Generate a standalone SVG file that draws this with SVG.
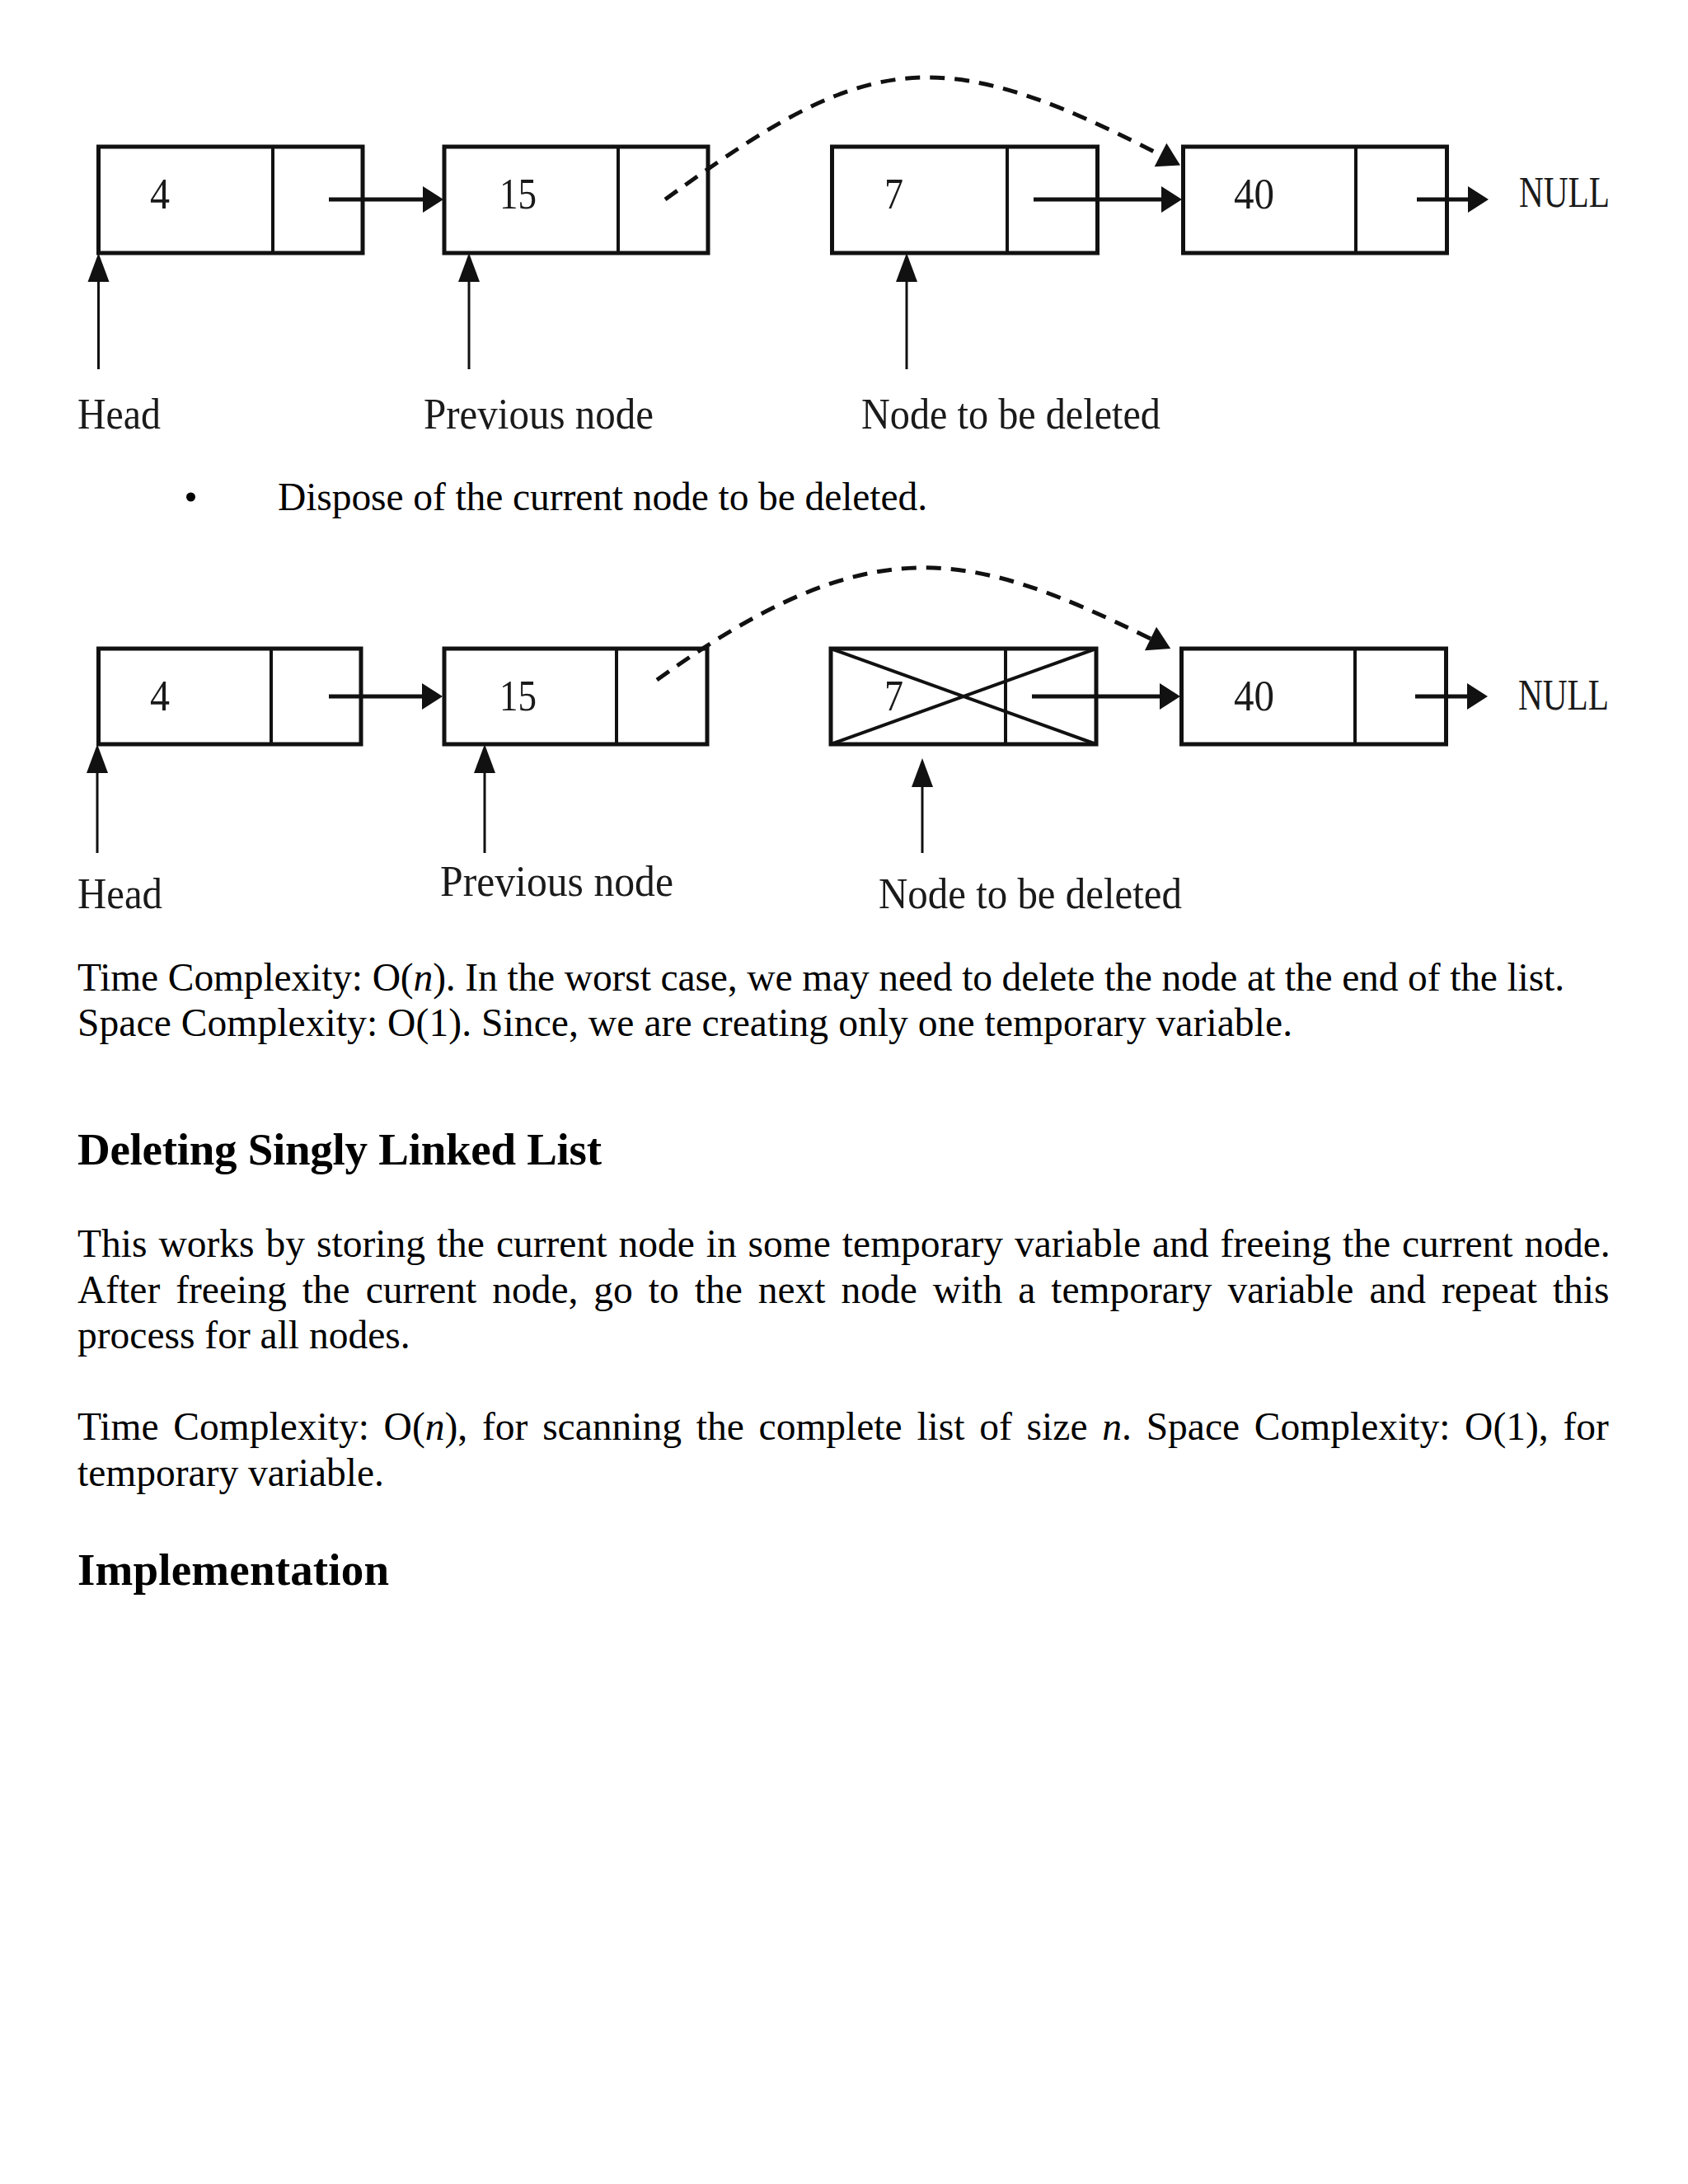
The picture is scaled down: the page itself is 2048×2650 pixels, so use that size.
<svg xmlns="http://www.w3.org/2000/svg" width="2048" height="2650" viewBox="0 0 2048 2650">
<style>
.box{fill:none;stroke:#111;stroke-width:5}
.div{stroke:#111;stroke-width:4}
.ptr{stroke:#111;stroke-width:5;fill:none}
.vptr{stroke:#111;stroke-width:3;fill:none}
.dash{stroke:#111;stroke-width:5;fill:none;stroke-dasharray:18 12}
.cross{stroke:#111;stroke-width:4}
.lbl{font-family:"Liberation Serif","Times New Roman",serif;font-size:53px;fill:#1a1a1a}
.body{font-family:"Liberation Serif","Times New Roman",serif;font-size:47.5px;fill:#000}
.head{font-family:"Liberation Serif","Times New Roman",serif;font-size:55px;font-weight:bold;fill:#000}
</style>
<defs>
<marker id="ah" markerUnits="userSpaceOnUse" markerWidth="25" markerHeight="32" viewBox="0 -16 25 32" refX="0" refY="0" orient="auto" overflow="visible"><path d="M0,-16 L25,0 L0,16 z" fill="#111"/></marker>
<marker id="av" markerUnits="userSpaceOnUse" markerWidth="35" markerHeight="26" viewBox="0 -13 35 26" refX="0" refY="0" orient="auto" overflow="visible"><path d="M0,-13 L35,0 L0,13 z" fill="#111"/></marker>
<marker id="ad" markerUnits="userSpaceOnUse" markerWidth="27" markerHeight="32" viewBox="0 -16 27 32" refX="0" refY="0" orient="auto" overflow="visible"><path d="M0,-16 L27,0 L0,16 z" fill="#111"/></marker>
</defs>
<rect width="2048" height="2650" fill="#fff"/>

<!-- Diagram 1 -->
<g id="d1-node-4"><rect class="box" x="119.5" y="178" width="320.5" height="129"/><line class="div" x1="331" y1="178" x2="331" y2="307"/><text class="lbl" x="182" y="253" textLength="24" lengthAdjust="spacingAndGlyphs">4</text></g>
<g id="d1-node-15"><rect class="box" x="539" y="178" width="320" height="129"/><line class="div" x1="750" y1="178" x2="750" y2="307"/><text class="lbl" x="606" y="253" textLength="45" lengthAdjust="spacingAndGlyphs">15</text></g>
<g id="d1-node-7"><rect class="box" x="1009.5" y="178" width="322" height="129"/><line class="div" x1="1222" y1="178" x2="1222" y2="307"/><text class="lbl" x="1073" y="253" textLength="23" lengthAdjust="spacingAndGlyphs">7</text></g>
<g id="d1-node-40"><rect class="box" x="1435.5" y="178" width="320" height="129"/><line class="div" x1="1645" y1="178" x2="1645" y2="307"/><text class="lbl" x="1497" y="253" textLength="49" lengthAdjust="spacingAndGlyphs">40</text></g>
<g id="d1-null"><text class="lbl" x="1843" y="251" textLength="110" lengthAdjust="spacingAndGlyphs">NULL</text></g>
<g id="d1-head"><text class="lbl" x="94" y="520" textLength="101" lengthAdjust="spacingAndGlyphs">Head</text></g>
<g id="d1-prev"><text class="lbl" x="514" y="520" textLength="279" lengthAdjust="spacingAndGlyphs">Previous node</text></g>
<g id="d1-del"><text class="lbl" x="1045" y="520" textLength="363" lengthAdjust="spacingAndGlyphs">Node to be deleted</text></g>
<g id="d1-connectors">
<line class="ptr" x1="399" y1="242" x2="513" y2="242" marker-end="url(#ah)"/>
<line class="ptr" x1="1254" y1="242" x2="1409" y2="242" marker-end="url(#ah)"/>
<line class="ptr" x1="1719" y1="242" x2="1781" y2="242" marker-end="url(#ah)"/>
<line class="vptr" x1="119.5" y1="448" x2="119.5" y2="342" marker-end="url(#av)"/>
<line class="vptr" x1="569" y1="448" x2="569" y2="342" marker-end="url(#av)"/>
<line class="vptr" x1="1100" y1="448" x2="1100" y2="342" marker-end="url(#av)"/>
<path class="dash" d="M807,242 C1047,68 1130,44 1408,188" marker-end="url(#ad)"/>
</g>

<!-- Bullet -->
<circle cx="231.5" cy="603" r="5.5" fill="#000"/>
<text class="body" x="337" y="619" textLength="788">Dispose of the current node to be deleted.</text>

<!-- Diagram 2 -->
<g id="d2-node-4"><rect class="box" x="119.5" y="787" width="318.5" height="116"/><line class="div" x1="329" y1="787" x2="329" y2="903"/><text class="lbl" x="182" y="862" textLength="24" lengthAdjust="spacingAndGlyphs">4</text></g>
<g id="d2-node-15"><rect class="box" x="539" y="787" width="319" height="116"/><line class="div" x1="748" y1="787" x2="748" y2="903"/><text class="lbl" x="606" y="862" textLength="45" lengthAdjust="spacingAndGlyphs">15</text></g>
<g id="d2-node-7"><rect class="box" x="1008" y="787" width="322" height="116"/><line class="div" x1="1220" y1="787" x2="1220" y2="903"/><text class="lbl" x="1073" y="862" textLength="23" lengthAdjust="spacingAndGlyphs">7</text><line class="cross" x1="1008" y1="787" x2="1330" y2="903"/><line class="cross" x1="1008" y1="903" x2="1330" y2="787"/></g>
<g id="d2-node-40"><rect class="box" x="1433.5" y="787" width="321" height="116"/><line class="div" x1="1644" y1="787" x2="1644" y2="903"/><text class="lbl" x="1497" y="862" textLength="49" lengthAdjust="spacingAndGlyphs">40</text></g>
<g id="d2-null"><text class="lbl" x="1842" y="861" textLength="110" lengthAdjust="spacingAndGlyphs">NULL</text></g>
<g id="d2-head"><text class="lbl" x="94" y="1102" textLength="103" lengthAdjust="spacingAndGlyphs">Head</text></g>
<g id="d2-prev"><text class="lbl" x="534" y="1087" textLength="283" lengthAdjust="spacingAndGlyphs">Previous node</text></g>
<g id="d2-del"><text class="lbl" x="1066" y="1102" textLength="368" lengthAdjust="spacingAndGlyphs">Node to be deleted</text></g>
<g id="d2-connectors">
<line class="ptr" x1="399" y1="845" x2="512" y2="845" marker-end="url(#ah)"/>
<line class="ptr" x1="1252" y1="845" x2="1407" y2="845" marker-end="url(#ah)"/>
<line class="ptr" x1="1717" y1="845" x2="1780" y2="845" marker-end="url(#ah)"/>
<line class="vptr" x1="118" y1="1035" x2="118" y2="938" marker-end="url(#av)"/>
<line class="vptr" x1="588" y1="1035" x2="588" y2="938" marker-end="url(#av)"/>
<line class="vptr" x1="1119" y1="1035" x2="1119" y2="955" marker-end="url(#av)"/>
<path class="dash" d="M797,825 C1057,638 1174,666 1396,775" marker-end="url(#ad)"/>
</g>

<!-- Text -->
<text class="body" x="94" y="1202" textLength="1804">Time Complexity: O(<tspan font-style="italic">n</tspan>). In the worst case, we may need to delete the node at the end of the list.</text>
<text class="body" x="94" y="1257" textLength="1474">Space Complexity: O(1). Since, we are creating only one temporary variable.</text>
<text class="head" x="94" y="1413" textLength="636">Deleting Singly Linked List</text>
<text class="body" x="94" y="1525" word-spacing="2.1">This works by storing the current node in some temporary variable and freeing the current node.</text>
<text class="body" x="94" y="1581" word-spacing="7.1">After freeing the current node, go to the next node with a temporary variable and repeat this</text>
<text class="body" x="94" y="1636">process for all nodes.</text>
<text class="body" x="94" y="1747" word-spacing="5.9">Time Complexity: O(<tspan font-style="italic">n</tspan>), for scanning the complete list of size <tspan font-style="italic">n</tspan>. Space Complexity: O(1), for</text>
<text class="body" x="94" y="1803">temporary variable.</text>
<text class="head" x="94" y="1923" textLength="378">Implementation</text>
</svg>
